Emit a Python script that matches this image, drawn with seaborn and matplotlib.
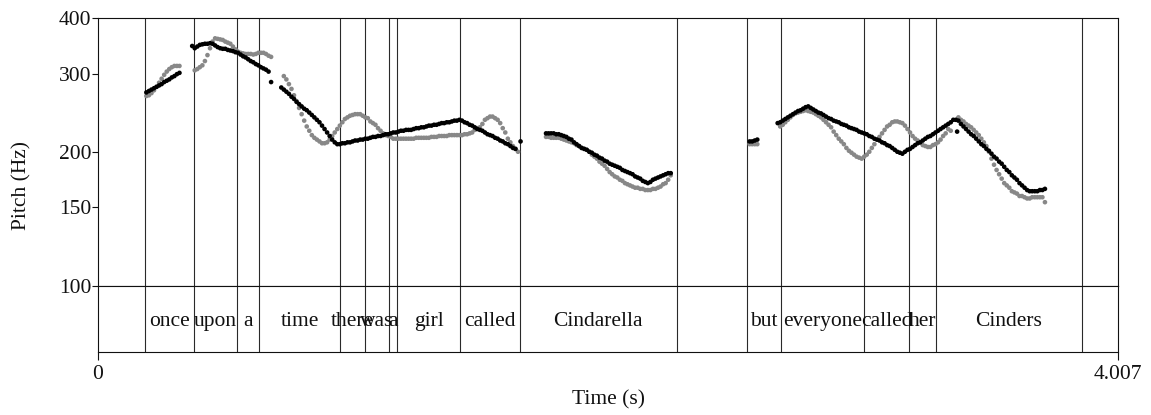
import numpy as np
import pandas as pd
import matplotlib
matplotlib.use("Agg")
import matplotlib.pyplot as plt
from matplotlib.ticker import FixedLocator, FixedFormatter, NullLocator
import seaborn as sns

# ---------------- data ----------------
FRAME = 0.01          # pitch analysis frame step (s)
T_END = 4.007         # total duration (s)

# stylized (black) contour: segment start times + Hz values per frame
black_starts = [0.19, 0.37, 0.72, 1.76, 2.56, 2.67]
black_seg1 = [272, 274, 276, 278, 280, 282, 284, 287, 289, 291, 294, 296, 299, 301]
black_seg2 = [346, 342, 345, 348, 349, 350, 350, 351, 350, 347, 344, 342, 341, 341, 339, 338,
              337, 335, 334, 331, 328, 326, 323, 320, 318, 315, 313, 310, 308, 306, 303, 287]
black_seg3 = [279, 276, 273, 270, 266, 263, 259, 256, 253, 250, 248, 245, 242, 239, 236, 233,
              229, 225, 221, 217, 213, 210, 208, 208, 209, 209, 210, 210, 211, 212, 212, 213,
              213, 214, 214, 215, 216, 216, 217, 217, 218, 219, 219, 220, 221, 221, 222, 223,
              223, 224, 224, 224, 225, 226, 226, 227, 227, 228, 229, 229, 230, 230, 231, 232,
              232, 233, 233, 234, 235, 235, 236, 235, 233, 232, 230, 229, 227, 225, 224, 223,
              221, 219, 218, 217, 215, 214, 212, 211, 209, 208, 206, 204, 203]
black_seg4 = [220, 220, 220, 220, 219, 219, 218, 217, 216, 214, 213, 210, 208, 206, 204, 203,
              202, 200, 199, 197, 196, 194, 193, 191, 190, 188, 187, 186, 185, 184, 182, 181,
              180, 179, 178, 176, 175, 174, 172, 171, 170, 171, 173, 174, 175, 176, 177, 178,
              179, 179]
black_seg5 = [211, 211, 212, 213]
black_seg6 = [232, 233, 235, 237, 239, 241, 243, 245, 247, 248, 250, 252, 253, 251, 249, 247,
              245, 244, 242, 240, 238, 237, 235, 234, 233, 231, 230, 229, 227, 226, 225, 224,
              222, 221, 220, 219, 217, 216, 214, 213, 212, 210, 209, 207, 206, 204, 202, 200,
              199, 198, 200, 202, 203, 205, 207, 209, 210, 212, 214, 216, 217, 219, 221, 223,
              225, 227, 229, 231, 233, 236, 236, 235, 231, 228, 225, 222, 219, 217, 214, 211,
              208, 206, 203, 201, 198, 195, 193, 190, 188, 185, 182, 180, 177, 175, 173, 170,
              168, 166, 164, 163, 163, 163, 163, 164, 164, 165]
black_extra_t = [1.66, 3.375]
black_extra_hz = [211, 222]

# original (gray) contour
gray_starts = [0.19, 0.38, 0.73, 1.76, 2.56, 2.68, 3.38]
gray_seg1 = [267, 268, 271, 275, 280, 286, 292, 298, 303, 307, 310, 312, 312, 312]
gray_seg2 = [305, 307, 310, 313, 320, 330, 342, 354, 360, 359, 358, 357, 354, 352, 350, 345,
             340, 336, 334, 333, 332, 332, 332, 331, 332, 334, 334, 334, 332, 329, 327]
gray_seg3 = [296, 291, 284, 277, 268, 260, 251, 243, 235, 228, 223, 218, 215, 213, 211, 209,
             209, 210, 213, 217, 221, 225, 229, 233, 237, 239, 241, 242, 243, 243, 243, 241,
             239, 238, 234, 232, 230, 226, 223, 220, 218, 217, 216, 214, 214, 214, 214, 214,
             214, 214, 214, 214, 215, 215, 215, 215, 215, 215, 216, 216, 216, 217, 217, 217,
             217, 218, 218, 218, 218, 218, 218, 219, 219, 220, 221, 224, 226, 227, 231, 236,
             238, 240, 240, 238, 236, 232, 226, 221, 214, 210, 206, 203, 200]
gray_seg4 = [216, 216, 215, 215, 215, 215, 214, 213, 212, 211, 210, 209, 207, 206, 204, 203,
             202, 200, 197, 195, 193, 190, 188, 186, 183, 180, 178, 176, 175, 173, 172, 170,
             169, 168, 167, 166, 166, 165, 165, 164, 164, 164, 165, 165, 166, 167, 169, 170,
             173, 177]
gray_seg5 = [208, 208, 208, 208]
gray_seg6 = [228, 230, 233, 236, 239, 242, 244, 245, 246, 247, 248, 247, 246, 245, 243, 241,
             239, 236, 233, 230, 227, 222, 218, 214, 211, 208, 204, 201, 199, 197, 195, 194,
             193, 195, 197, 200, 204, 208, 213, 216, 220, 224, 228, 230, 233, 234, 234, 233,
             232, 229, 225, 221, 217, 214, 212, 210, 207, 206, 205, 205, 207, 208, 210, 213,
             217, 220, 225, 223]
gray_seg7 = [239, 236, 234, 231, 229, 227, 224, 221, 218, 214, 210, 206, 200, 193, 187, 182,
             178, 174, 170, 168, 166, 163, 162, 161, 159, 159, 158, 157, 157, 158, 158, 158,
             158, 158, 154]

# text tier
tier_bounds = [0.186, 0.376, 0.547, 0.634, 0.950, 1.049, 1.142, 1.176, 1.424, 1.658,
               2.273, 2.550, 2.682, 3.008, 3.187, 3.293, 3.864]
tier_words = ["", "once", "upon", "a", "time", "there", "was", "a", "girl", "called",
              "Cindarella", "", "but", "everyone", "called", "her", "Cinders", ""]

pitch_ticks = [100, 150, 200, 300, 400]
time_ticks = [0, T_END]
time_ticklabels = ["0", "4.007"]

# ---------------- build table ----------------
def frames(starts, segs, name):
    rows = []
    for t0, vals in zip(starts, segs):
        for i, v in enumerate(vals):
            rows.append((round(t0 + i * FRAME, 4), v, name))
    return rows

rows = frames(gray_starts, [gray_seg1, gray_seg2, gray_seg3, gray_seg4, gray_seg5,
                            gray_seg6, gray_seg7], "original")
rows += frames(black_starts, [black_seg1, black_seg2, black_seg3, black_seg4, black_seg5,
                              black_seg6], "stylized")
rows += [(t, v, "stylized") for t, v in zip(black_extra_t, black_extra_hz)]
df = pd.DataFrame(rows, columns=["time", "pitch", "series"])

# ---------------- plot ----------------
sns.set_theme(style="white")
plt.rcParams["font.family"] = ["Liberation Serif", "DejaVu Serif"]
plt.rcParams["axes.linewidth"] = 0.8
plt.rcParams["axes.edgecolor"] = "#111111"
FS = 15.5

W, H = 1151, 415
fig = plt.figure(figsize=(W / 100, H / 100), dpi=100)
L, R = 98, 1118
TOP, MID, BOT = 18, 285.5, 352
ax = fig.add_axes([L / W, (H - MID) / H, (R - L) / W, (MID - TOP) / H])
axt = fig.add_axes([L / W, (H - BOT) / H, (R - L) / W, (BOT - MID) / H])

line_col = "#2a2a2a"
for b in tier_bounds:
    ax.axvline(b, color=line_col, lw=0.8, zorder=1)
    axt.axvline(b, color=line_col, lw=0.8, zorder=1)

sns.scatterplot(data=df, x="time", y="pitch", hue="series",
                palette={"original": "#888888", "stylized": "#000000"},
                s=11, linewidth=0, legend=False, ax=ax, zorder=3)

ax.set_yscale("log")
ax.set_xlim(0, T_END)
ax.set_ylim(100, 400)
ax.yaxis.set_major_locator(FixedLocator(pitch_ticks))
ax.yaxis.set_major_formatter(FixedFormatter([str(v) for v in pitch_ticks]))
ax.yaxis.set_minor_locator(NullLocator())
ax.set_xticks([])
ax.set_xlabel("")
ax.set_ylabel("")
ax.tick_params(axis="y", which="major", direction="out", length=4, width=0.8,
               pad=1, labelsize=FS, colors="#111111", left=True)
for sp in ax.spines.values():
    sp.set_visible(True)

axt.set_xlim(0, T_END)
axt.set_ylim(0, 1)
axt.set_yticks([])
axt.set_xticks(time_ticks)
axt.set_xticklabels(time_ticklabels)
axt.tick_params(axis="x", direction="out", length=6, width=0.8, pad=3,
                labelsize=FS, colors="#111111", bottom=True)
for sp in axt.spines.values():
    sp.set_visible(True)

edges = [0.0] + tier_bounds + [T_END]
for i, w in enumerate(tier_words):
    if w:
        axt.text((edges[i] + edges[i + 1]) / 2, 0.39, w, ha="center", va="baseline",
                 fontsize=FS, color="#111111")

fig.text(608 / W, (H - 399.5) / H, "Time (s)", ha="center", va="center", fontsize=FS,
         color="#111111")
fig.text(21.7 / W, (H - 185.8) / H, "Pitch (Hz)", ha="center", va="center",
         rotation=90, fontsize=FS, color="#111111")

fig.savefig("out.png", dpi=100)
